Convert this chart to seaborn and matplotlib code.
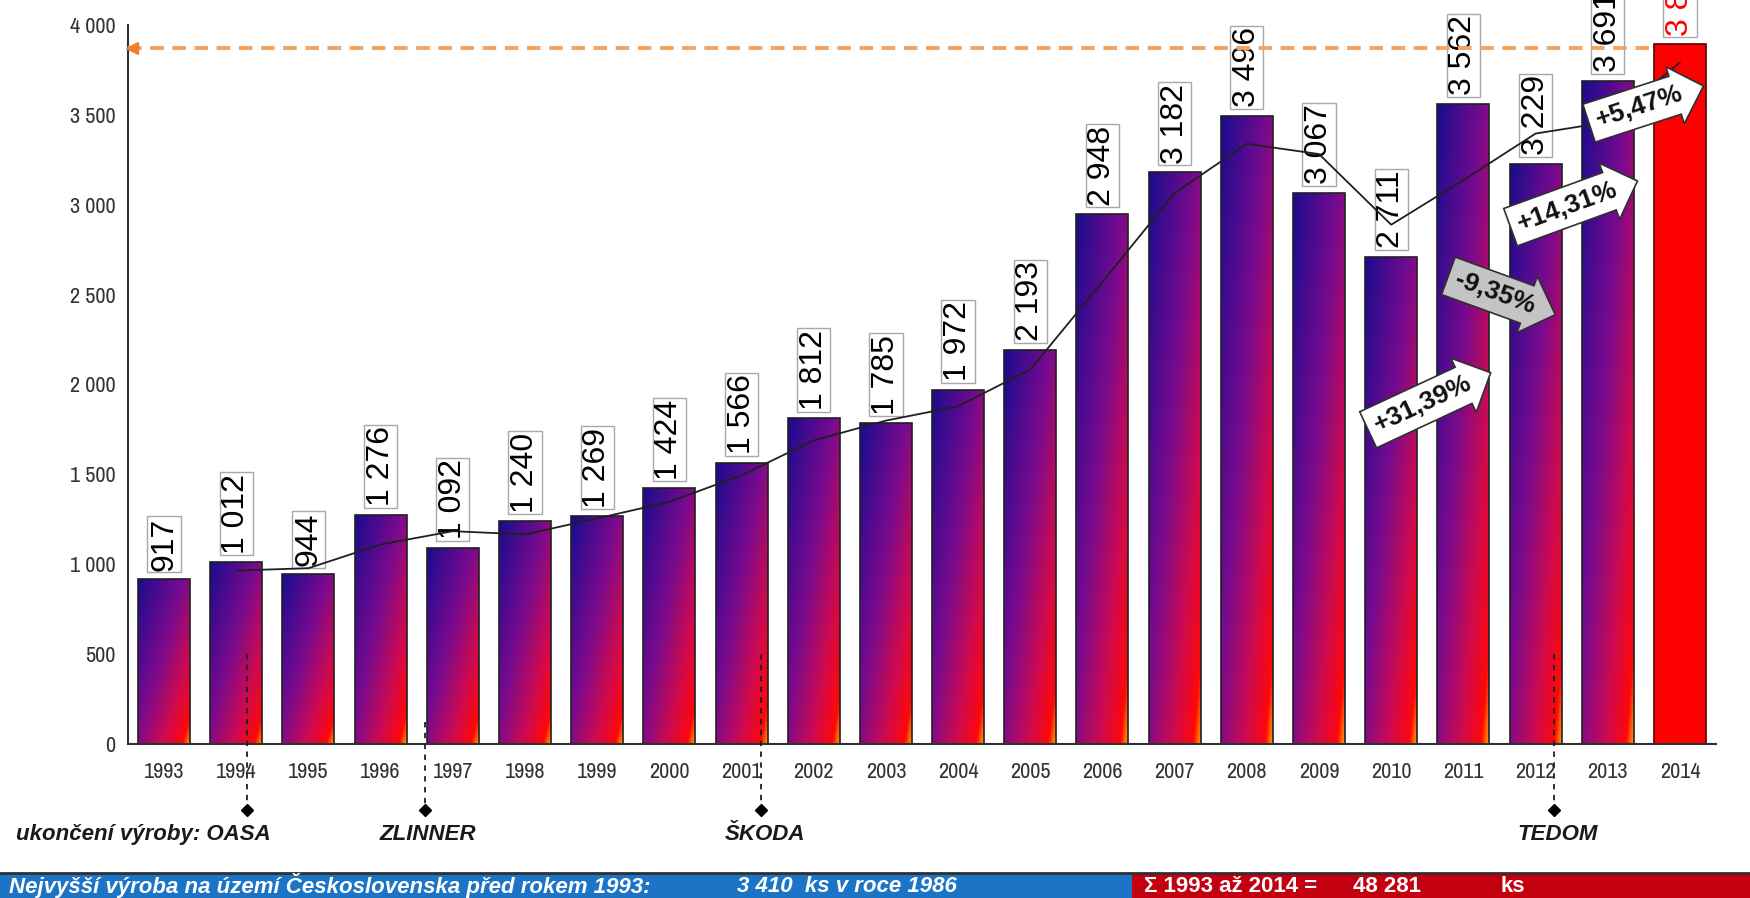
import numpy as np
import matplotlib.pyplot as plt
import matplotlib.colors as mcolors
from matplotlib import font_manager as fm
from matplotlib.patches import Rectangle
from matplotlib.lines import Line2D
import seaborn as sns

# production per year (pcs)
years = ['1993', '1994', '1995', '1996', '1997', '1998', '1999', '2000', '2001', '2002', '2003',
         '2004', '2005', '2006', '2007', '2008', '2009', '2010', '2011', '2012', '2013', '2014']
values = [917, 1012, 944, 1276, 1092, 1240, 1269, 1424, 1566, 1812, 1785,
          1972, 2193, 2948, 3182, 3496, 3067, 2711, 3562, 3229, 3691, 3893]

# trend line (starts in 1994)
trend_years = ['1994', '1995', '1996', '1997', '1998', '1999', '2000', '2001', '2002', '2003', '2004',
               '2005', '2006', '2007', '2008', '2009', '2010', '2011', '2012', '2013', '2014']
trend_values = [965, 978, 1110, 1184, 1166, 1255, 1347, 1495, 1689, 1799, 1879,
                2083, 2571, 3065, 3339, 3282, 2889, 3137, 3396, 3460, 3792]

# year-on-year change arrows
change_from = ['2010', '2011', '2012', '2013']
change_text = ['+31,39%', '-9,35%', '+14,31%', '+5,47%']
change_y = [1890, 2510, 2990, 3545]

# end of production markers
end_years = ['1994', '1997', '2001', '2012']
end_text = ['ukončení výroby: OASA', 'ZLINNER', 'ŠKODA', 'TEDOM']

band_left = 'Nejvyšší výroba na území Československa před rokem 1993:'
band_left_val = '3 410  ks v roce 1986'
band_right = 'Σ 1993 až 2014 ='
band_right_val = '48 281'
band_unit = 'ks'

sns.set_style('white')
plt.rcParams['font.family'] = ['Liberation Sans', 'DejaVu Sans']

# narrow face for the axis numbers, if one is installed
_names = sorted({f.name for f in fm.fontManager.ttflist})
_narrow = [n for n in _names if 'Narrow' in n]
_narrow += [n for n in _names if n.endswith('Condensed') and 'Semi' not in n and 'Extra' not in n]
if _narrow:
    tick_kw = dict(family=[_narrow[0], 'DejaVu Sans'], fontsize=16)
else:
    tick_kw = dict(family=['Liberation Sans', 'DejaVu Sans'], fontsize=13.5)

fig = plt.figure(figsize=(17.5, 8.98), dpi=100)
ax = fig.add_axes([128 / 1750, 1 - 744 / 898, (1716 - 128) / 1750, (744 - 25) / 898])

sns.barplot(x=years, y=values, order=years, color='#7a0a8e', width=0.72, ax=ax,
            edgecolor='#202020', linewidth=1.2, zorder=2)

# gradient fill, clipped to each bar
grad = mcolors.LinearSegmentedColormap.from_list(
    'bar', [(0, '#1a0c8e'), (0.45, '#7a0a8e'), (0.74, '#cf0a4e'), (0.93, '#ff0808'), (1, '#ffa000')])
U, V = np.meshgrid(np.linspace(0, 1, 64), np.linspace(0, 1, 256))
T = 0.5 * U + 0.5 * V
bars = ax.patches[:len(years)]
for i, p in enumerate(bars):
    x0, y0, w, h = p.get_x(), p.get_y(), p.get_width(), p.get_height()
    if i == len(years) - 1:
        p.set_facecolor('#ff0000')
        p.set_edgecolor('#500000')
        continue
    p.set_facecolor('none')
    im = ax.imshow(T, cmap=grad, extent=[x0, x0 + w, y0, y0 + h], origin='upper',
                   aspect='auto', zorder=1.9, vmin=0, vmax=1)
    im.set_clip_path(p)

ax.set_xlim(-0.5, len(years) - 0.5)
ax.set_ylim(0, 4000)

# value labels
for i, v in enumerate(values):
    ax.annotate(f'{v:,}'.replace(',', ' '), xy=(i, v), xytext=(0, 6), textcoords='offset points',
                rotation=90, ha='center', va='bottom', fontsize=23,
                color='#ff0000' if i == len(values) - 1 else 'black',
                bbox=dict(boxstyle='square,pad=0.05', fc='white', ec='#a8a8a8', lw=1),
                zorder=4, annotation_clip=False)

# trend line
tx = [years.index(y) for y in trend_years]
sns.lineplot(x=tx, y=trend_values, ax=ax, color='#202020', linewidth=1.3, sort=False, zorder=5)

# max level line
ax.plot([-0.5, len(years) - 1 - 0.36], [values[-1] - 20] * 2, color='#f4a460', lw=2.8,
        ls=(0, (3.5, 2.2)), zorder=4.5, clip_on=False)
ax.plot([-0.45], [values[-1] - 20], marker='<', color='#f08030', ms=8, clip_on=False, zorder=4.5)

# change arrows
rot = [25, -20, 20, 18]
fills = ['white', '#c4c4c4', 'white', 'white']
for yr, s, yv, r, fc in zip(change_from, change_text, change_y, rot, fills):
    ax.text(years.index(yr) + 0.44, yv, s, rotation=r, rotation_mode='anchor', ha='center',
            va='center', fontsize=19, fontweight='bold', color='#111111', zorder=6,
            bbox=dict(boxstyle='rarrow,pad=0.3', fc=fc, ec='#303030', lw=1.2))

# end of production markers
offs = [0.15, -0.39, 0.27, 0.26]
tops = [500, 120, 500, 500]
for yr, s, o, t in zip(end_years, end_text, offs, tops):
    xp = years.index(yr) + o
    ax.plot([xp, xp], [t, -367], color='#202020', lw=1.3, ls=(0, (3, 3)), clip_on=False, zorder=3)
    ax.plot([xp], [-367], marker='D', color='black', ms=6, clip_on=False, zorder=3)
    if s.startswith('ukon'):
        ax.text(xp + 0.33, -506, s, ha='right', va='center', fontsize=16, fontstyle='italic',
                fontweight='bold', color='#1a1a1a', clip_on=False)
    else:
        ax.text(xp + 0.05, -506, s, ha='center', va='center', fontsize=16, fontstyle='italic',
                fontweight='bold', color='#1a1a1a', clip_on=False)

# axes styling
for side in ['top', 'right']:
    ax.spines[side].set_visible(False)
for side in ['left', 'bottom']:
    ax.spines[side].set_color('#303030')
    ax.spines[side].set_linewidth(1.5)
ax.set_xticks(np.arange(-0.5, len(years), 1))
ax.set_xticklabels([])
ax.set_xticks(range(len(years)), minor=True)
ax.set_xticklabels(years, minor=True, color='#333333', **tick_kw)
ax.tick_params(axis='x', which='major', direction='inout', length=11, width=1.3, color='#303030')
ax.tick_params(axis='x', which='minor', length=0, pad=13)
yt = list(range(0, 4001, 500))
ax.set_yticks(yt)
ax.set_yticklabels([f'{v:,}'.replace(',', ' ') for v in yt], color='#333333', **tick_kw)
ax.tick_params(axis='y', direction='inout', length=10, width=1.3, color='#303030', pad=4)
ax.set_xlabel('')
ax.set_ylabel('')

# bottom info bands
bh = 25 / 898
split = 1132 / 1750
fig.add_artist(Rectangle((0, 0), split, bh, transform=fig.transFigure, fc='#1b74c5', ec='none'))
fig.add_artist(Rectangle((split, 0), 1 - split, bh, transform=fig.transFigure,
                         fc='#c40010', ec='none'))
fig.add_artist(Line2D([0, 1], [bh, bh], transform=fig.transFigure, color='#303030', lw=2))
ty = 12 / 898
band_kw = dict(va='center', color='white', fontsize=16, fontweight='bold')
fig.text(9 / 1750, ty, band_left, ha='left', fontstyle='italic', **band_kw)
fig.text(737 / 1750, ty, band_left_val, ha='left', fontstyle='italic', **band_kw)
fig.text(1144 / 1750, ty, band_right, ha='left', **band_kw)
fig.text(1353 / 1750, ty, band_right_val, ha='left', **band_kw)
fig.text(1501 / 1750, ty, band_unit, ha='left', **band_kw)

fig.savefig('out.png', dpi=100)
